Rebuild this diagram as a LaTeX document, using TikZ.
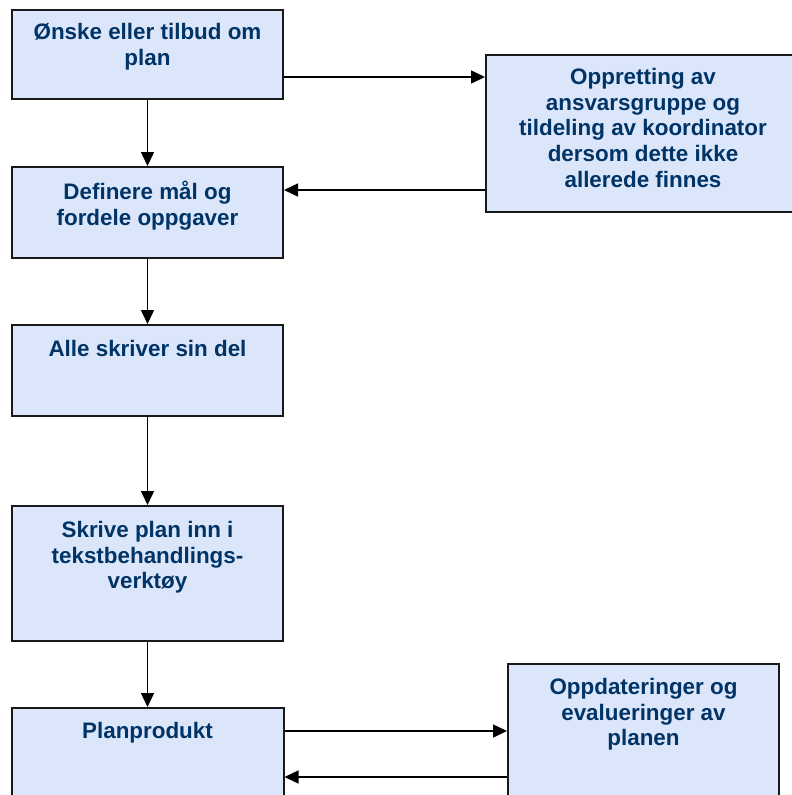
\documentclass[tikz,border=0pt]{standalone}
\usepackage{fontspec}
\setmainfont{Liberation Sans}
\usetikzlibrary{arrows.meta}
\definecolor{boxfill}{RGB}{220,230,250}
\definecolor{boxtext}{RGB}{0,51,102}
\begin{document}
\begin{tikzpicture}[x=1pt,y=-1pt,
  stepbox/.style={draw=black!90, line width=2pt, fill=boxfill, rectangle, inner sep=0pt},
  boxlabel/.style={anchor=north, inner sep=0pt, align=center, text=boxtext,
    font=\bfseries\fontsize{22.4}{25.8}\selectfont},
  flow/.style={line width=1.5pt, -{Triangle[length=14pt,width=13pt]}}]
\useasboundingbox (0,0) rectangle (792,795);
\clip (0,0) rectangle (792,795);

% process boxes
\node[stepbox, minimum width=271pt, minimum height=89pt]  (wish)   at (147.5,54.5)  {};
\node[stepbox, minimum width=314pt, minimum height=157pt] (group)  at (643,133.5)   {};
\node[stepbox, minimum width=271pt, minimum height=91pt]  (define) at (147.5,212.5) {};
\node[stepbox, minimum width=271pt, minimum height=91pt]  (write)  at (147.5,370.5) {};
\node[stepbox, minimum width=271pt, minimum height=135pt] (typeset) at (147.5,573.5) {};
\node[stepbox, minimum width=272pt, minimum height=132pt] (product) at (147.5,774)  {};
\node[stepbox, minimum width=271pt, minimum height=176pt] (update) at (643.5,752)   {};

% box texts
\node[boxlabel] (wish-t)    at ([yshift=-12pt]wish.north)    {\strut Ønske eller tilbud om\\plan};
\node[boxlabel] (group-t)   at ([yshift=-12pt]group.north)   {\strut Oppretting av\\ansvarsgruppe og\\tildeling av koordinator\\dersom dette ikke\\allerede finnes};
\node[boxlabel] (define-t)  at ([yshift=-15pt]define.north)  {\strut Definere mål og\\fordele oppgaver};
\node[boxlabel] (write-t)   at ([yshift=-14pt]write.north)   {\strut Alle skriver sin del};
\node[boxlabel] (typeset-t) at ([yshift=-14pt]typeset.north) {\strut Skrive plan inn i\\tekstbehandlings-\\verktøy};
\node[boxlabel] (product-t) at ([yshift=-13pt]product.north) {\strut Planprodukt};
\node[boxlabel] (update-t)  at ([yshift=-13pt]update.north)  {\strut Oppdateringer og\\evalueringer av\\planen};

% main flow
\draw[flow] (wish) -- (define);
\draw[flow] (define) -- (write);
\draw[flow] (write) -- (typeset);
\draw[flow] (typeset) -- (product);

% side loops
\draw[flow] ([yshift=-22.5pt]wish.east) coordinate (w1) -- (w1 -| group.west);
\draw[flow] ([yshift=-56.5pt]group.west) coordinate (g1) -- (g1 -| define.east);
\draw[flow] ([yshift=43pt]product.east) coordinate (p1) -- (p1 -| update.west);
\draw[flow] ([yshift=-25pt]update.west) coordinate (u1) -- (u1 -| product.east);
\end{tikzpicture}
\end{document}
